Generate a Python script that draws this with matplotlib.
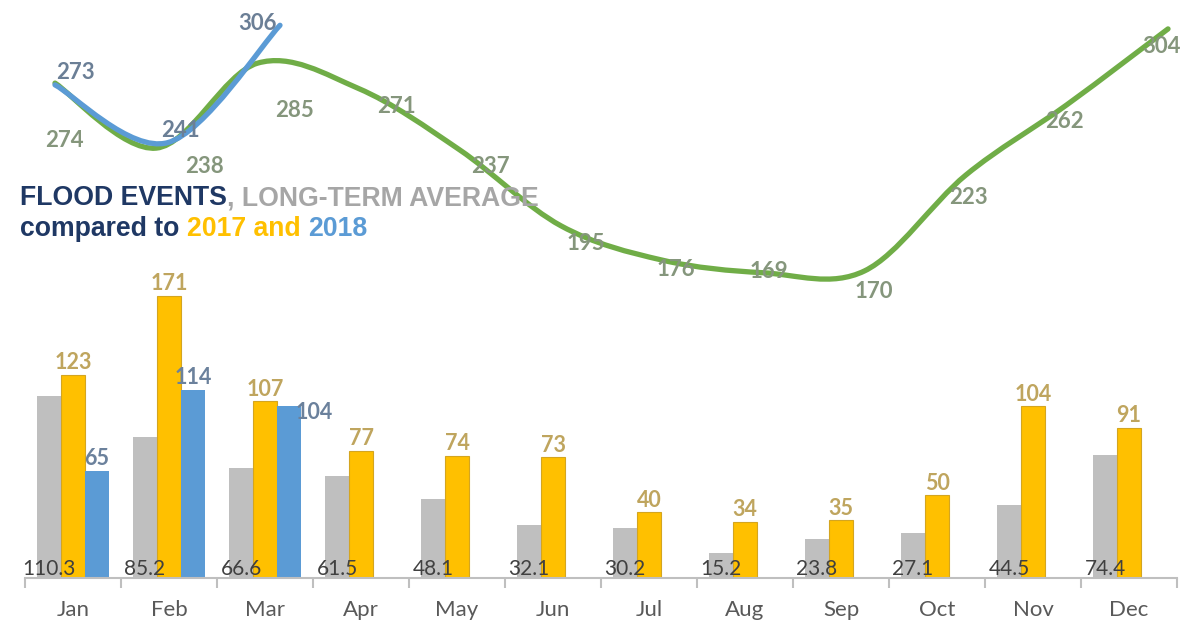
import matplotlib
matplotlib.use("Agg")
import matplotlib.pyplot as plt
from matplotlib.path import Path
from matplotlib.patches import PathPatch
import numpy as np

months = ["Jan", "Feb", "Mar", "Apr", "May", "Jun", "Jul", "Aug", "Sep", "Oct", "Nov", "Dec"]
long_term_avg = [110.3, 85.2, 66.6, 61.5, 48.1, 32.1, 30.2, 15.2, 23.8, 27.1, 44.5, 74.4]
events_2017 = [123, 171, 107, 77, 74, 73, 40, 34, 35, 50, 104, 91]
events_2018 = [65, 114, 104]
line_green = [274, 238, 285, 271, 237, 195, 176, 169, 170, 223, 262, 304]
line_blue = [273, 241, 306]

GRAY = "#BFBFBF"
YELLOW = "#FFC000"
BLUE = "#5B9BD5"
GREEN = "#70AD47"
NAVY = "#1F3864"


def smooth_path(xs, ys):
    """Excel-style smoothed line as cubic bezier segments through the points."""
    pts = np.column_stack([xs, ys]).astype(float)
    n = len(pts)
    verts = [pts[0]]
    codes = [Path.MOVETO]
    for i in range(n - 1):
        p0 = pts[i - 1] if i > 0 else pts[i]
        p1, p2 = pts[i], pts[i + 1]
        p3 = pts[i + 2] if i + 2 < n else pts[i + 1]
        verts += [p1 + (p2 - p0) / 6, p2 - (p3 - p1) / 6, p2]
        codes += [Path.CURVE4] * 3
    return Path(verts, codes)


fig = plt.figure(figsize=(11.82, 6.2), dpi=100)
W, H = 1182, 620
rect = [25 / W, 42 / H, 1152 / W, 578 / H]

# bars
ax = fig.add_axes(rect)
x = np.arange(len(months))
w = 0.25
ax.bar(x - w, long_term_avg, w, color=GRAY, zorder=2)
ax.bar(x, events_2017, w, color=YELLOW, edgecolor="#D4A520", linewidth=0.8, zorder=2)
ax.bar(x[:len(events_2018)] + w, events_2018, w, color=BLUE, zorder=2)
ax.set_xlim(-0.5, 11.5)
ax.set_ylim(0, 350)

for xi, v in zip(x, long_term_avg):
    ax.annotate(f"{v}", (xi - w, 0), xytext=(0, -1), textcoords="offset points",
                ha="center", va="bottom", fontsize=15, color="#404040", family="Lato")
for xi, v in zip(x, events_2017):
    ax.annotate(f"{v}", (xi, v), xytext=(0, 1), textcoords="offset points",
                ha="center", va="bottom", fontsize=15.5, color="#BFA55E",
                family="Lato", fontweight="bold")
blue_offsets = [(0, 1), (0, 1), (18, -12)]
for xi, v, off in zip(x, events_2018, blue_offsets):
    ax.annotate(f"{v}", (xi + w, v), xytext=off, textcoords="offset points",
                ha="center", va="bottom", fontsize=15.5, color="#6B819C",
                family="Lato", fontweight="bold")

for s in ["top", "right", "left"]:
    ax.spines[s].set_visible(False)
ax.spines["bottom"].set_color(GRAY)
ax.spines["bottom"].set_linewidth(1.5)
ax.set_yticks([])
ax.set_xticks(x)
ax.set_xticklabels(months, fontsize=16, color="#595959", family="Lato")
ax.tick_params(axis="x", length=0, pad=16)
ax.set_xticks(np.arange(-0.5, 12, 1), minor=True)
ax.tick_params(axis="x", which="minor", length=7, width=1.5, color=GRAY)

# smoothed lines, each on its own overlay axes
gax = fig.add_axes(rect)
gax.set_xlim(-0.2965, 11.0887)
gax.set_ylim(0, 320)
gax.axis("off")
bax = fig.add_axes(rect)
bax.set_xlim(-0.2667, 9.9733)
bax.set_ylim(0, 320)
bax.axis("off")

xg = np.arange(len(line_green))
xb = np.arange(len(line_blue))
gax.add_patch(PathPatch(smooth_path(xg, line_green), fill=False, edgecolor=GREEN,
                        lw=3.8, capstyle="round", zorder=3))
bax.add_patch(PathPatch(smooth_path(xb, line_blue), fill=False, edgecolor=BLUE,
                        lw=3.8, capstyle="round", zorder=4))

green_offsets = [(7, -41), (35, -13), (27, -34), (27, -13), (22, -12), (18, -13),
                 (10, -7), (4, 1), (7, -15), (2, -16), (-2, -12), (-5, -13)]
for xi, v, off in zip(xg, line_green, green_offsets):
    gax.annotate(f"{v}", (xi, v), xytext=off, textcoords="offset points",
                 ha="center", va="center", fontsize=16, color="#85967C",
                 family="Lato", fontweight="bold", zorder=5)
blue_line_offsets = [(15, 9), (9, 9), (-16, 1)]
for xi, v, off in zip(xb, line_blue, blue_line_offsets):
    bax.annotate(f"{v}", (xi, v), xytext=off, textcoords="offset points",
                 ha="center", va="center", fontsize=16, color="#6B7F96",
                 family="Lato", fontweight="bold", zorder=5)

# title, two lines in mixed colours
tkw = dict(fontsize=19.2, fontweight="bold", family="Liberation Sans", va="bottom")
t = fig.text(20 / W, 1 - 211 / H, "FLOOD EVENTS", color=NAVY, **tkw)
t2 = plt.annotate(", LONG-TERM AVERAGE", xy=(1, 0), xycoords=t, color="#A6A6A6",
                  annotation_clip=False, **tkw)
t3 = fig.text(20 / W, 1 - 242 / H, "compared to ", color=NAVY, **tkw)
t4 = plt.annotate("2017 and ", xy=(1, 0), xycoords=t3, color=YELLOW, **tkw)
t5 = plt.annotate("2018", xy=(1, 0), xycoords=t4, color=BLUE, **tkw)

fig.savefig("out.png", dpi=100)
